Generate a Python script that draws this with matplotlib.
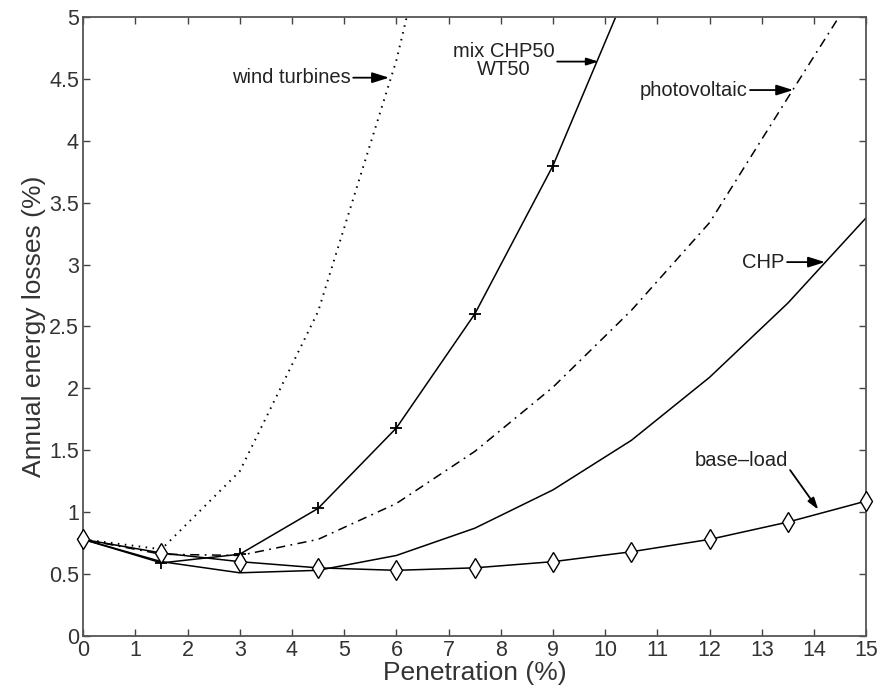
import matplotlib
matplotlib.use("Agg")
import matplotlib.pyplot as plt

plt.rcParams['font.family'] = ['Liberation Sans', 'DejaVu Sans']

penetration = [0, 1.5, 3, 4.5, 6, 7.5, 9, 10.5, 12, 13.5, 15]
wind = [0.78, 0.70, 1.33, 2.62, 4.65, 7.3, 10.0, 13.0, 16.5, 20.5, 25.0]
mix = [0.78, 0.59, 0.66, 1.03, 1.68, 2.60, 3.80, 5.30, 7.0, 9.0, 11.5]
pv = [0.78, 0.66, 0.65, 0.78, 1.07, 1.49, 2.01, 2.63, 3.34, 4.35, 5.35]
chp = [0.78, 0.60, 0.51, 0.53, 0.65, 0.87, 1.18, 1.58, 2.09, 2.69, 3.38]
baseload = [0.78, 0.67, 0.60, 0.55, 0.53, 0.55, 0.60, 0.68, 0.78, 0.92, 1.09]

xticks = list(range(0, 16))
yticks = [0, 0.5, 1, 1.5, 2, 2.5, 3, 3.5, 4, 4.5, 5]
yticklabels = ['0', '0.5', '1', '1.5', '2', '2.5', '3', '3.5', '4', '4.5', '5']

fig = plt.figure(figsize=(8.84, 6.95), dpi=100)
ax = fig.add_axes([0.094, 0.085, 0.886, 0.8905])

lc = 'black'
ax.plot(penetration, wind, color=lc, lw=1.4, linestyle=(0, (0.8, 2.8)))
ax.plot(penetration, mix, color=lc, lw=1.1)
mx = [(x, y) for x, y in zip(penetration, mix) if y <= 5]
ax.plot([p[0] for p in mx], [p[1] for p in mx], linestyle='none', marker='+',
        markersize=9, markeredgewidth=1.3, color=lc, clip_on=False, zorder=3)
ax.plot(penetration, pv, color=lc, lw=1.1, linestyle=(0, (6, 3.5, 1.2, 3.5)))
ax.plot(penetration, chp, color=lc, lw=1.1)
ax.plot(penetration, baseload, color=lc, lw=1.1)
ax.plot(penetration, baseload, linestyle='none', marker='d', markersize=10,
        markerfacecolor='white', markeredgecolor=lc, markeredgewidth=1.0,
        clip_on=False, zorder=3)

ax.set_xlim(0, 15)
ax.set_ylim(0, 5)
ax.set_xticks(xticks)
ax.set_yticks(yticks)
ax.set_yticklabels(yticklabels)
ax.tick_params(direction='in', length=5, width=1, top=True, right=True,
               labelsize=15.5, colors='#444444', labelcolor='#333333', pad=3)
for s in ax.spines.values():
    s.set_color('#555555')
    s.set_linewidth(1.3)

ax.set_xlabel('Penetration (%)', fontsize=19, color='#333333', labelpad=0)
ax.set_ylabel('Annual energy losses (%)', fontsize=19, color='#333333', labelpad=2)

ap = dict(arrowstyle='-|>,head_length=0.7,head_width=0.22', color='black', lw=1.3,
          shrinkA=0, shrinkB=0)
tcol = '#222222'
fs = 14.5
ax.annotate('wind turbines', xy=(5.86, 4.51), xytext=(5.12, 4.51), arrowprops=ap,
            ha='right', va='center', fontsize=fs, color=tcol)
ax.annotate('', xy=(9.87, 4.64), xytext=(9.08, 4.64), arrowprops=ap)
ax.text(8.05, 4.65, 'mix CHP50\nWT50', ha='center', va='center', fontsize=fs,
        color=tcol, linespacing=0.95)
ax.annotate('photovoltaic', xy=(13.6, 4.41), xytext=(12.72, 4.41), arrowprops=ap,
            ha='right', va='center', fontsize=fs, color=tcol)
ax.annotate('CHP', xy=(14.21, 3.02), xytext=(13.43, 3.02), arrowprops=ap,
            ha='right', va='center', fontsize=fs, color=tcol)
ax.annotate('', xy=(14.08, 1.02), xytext=(13.54, 1.34), arrowprops=ap)
ax.text(12.6, 1.42, 'base\u2013load', ha='center', va='center', fontsize=fs, color=tcol)

fig.savefig('out.png', dpi=100)
